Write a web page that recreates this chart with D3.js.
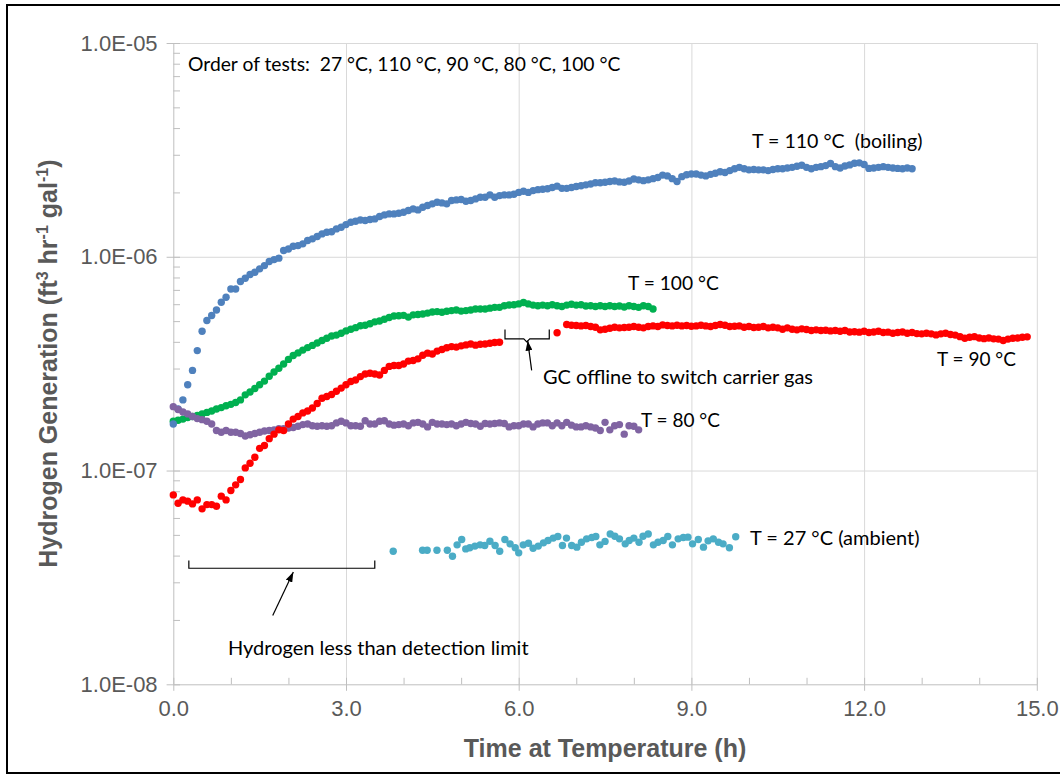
<!DOCTYPE html>
<html>
<head>
<meta charset="utf-8">
<script src="https://cdn.jsdelivr.net/npm/d3@7"></script>
<style>
  body { margin: 0; background: #fff; }
  svg { display: block; }
</style>
</head>
<body>
<svg id="chart" width="1060" height="776"></svg>
<script>
// GC sampling interval, hours (one sample every 5 minutes)
const STEP_H = 1 / 12;
// Values below are in units of 1e-7 ft3 hr-1 gal-1
const UNIT = 1e-7;

// T = 110 °C (boiling)
const h2_110C = [
  1.65, 1.94, 2.14, 2.52, 2.94, 3.64, 4.48, 5.03, 5.31, 5.64,
  6.13, 6.47, 7.07, 7.07, 7.66, 7.94, 8.26, 8.47, 8.78, 9.09,
  9.50, 9.70, 9.85, 10.69, 10.88, 11.20, 11.28, 11.49, 11.91, 12.13,
  12.43, 12.79, 13.02, 13.10, 13.50, 13.75, 14.14, 14.50, 14.66, 14.87,
  14.77, 14.93, 15.04, 15.42, 15.70, 15.87, 15.87, 15.98, 16.16, 16.45,
  16.75, 16.57, 17.05, 17.36, 17.68, 17.99, 17.86, 17.68, 18.32, 18.45,
  18.52, 18.19, 18.32, 18.65, 18.99, 18.99, 19.47, 18.99, 19.33, 19.47,
  19.47, 19.6, 20.0, 20.25, 20.0, 20.4, 20.6, 20.7, 20.8, 21.1,
  21.4, 20.9, 20.9, 21.1, 21.3, 21.5, 21.7, 21.9, 22.2, 22.2,
  22.3, 22.5, 22.6, 22.4, 22.3, 22.6, 23.1, 22.9, 22.7, 22.9,
  23.2, 23.5, 24.1, 23.9, 23.2, 22.5, 23.7, 24.2, 24.4, 24.4,
  24.1, 23.9, 24.3, 24.6, 25.0, 24.8, 25.3, 25.8, 26.2, 25.8,
  25.5, 25.6, 25.5, 25.5, 25.3, 25.6, 25.8, 25.8, 26.0, 26.2,
  26.5, 26.8, 26.2, 25.8, 26.2, 26.4, 26.7, 27.3, 26.4, 26.0,
  26.6, 26.9, 27.4, 27.5, 27.0, 25.9, 26.0, 26.2, 26.4, 26.2,
  26.0, 25.9, 25.8, 26.0, 25.8
];

// T = 100 °C
const h2_100C = [
  1.70, 1.72, 1.74, 1.77, 1.79, 1.81, 1.84, 1.87, 1.90, 1.94,
  1.97, 2.01, 2.04, 2.08, 2.14, 2.26, 2.33, 2.42, 2.52, 2.62,
  2.76, 2.89, 3.01, 3.15, 3.31, 3.45, 3.55, 3.66, 3.76, 3.85,
  3.95, 4.06, 4.16, 4.26, 4.30, 4.39, 4.50, 4.58, 4.66, 4.76,
  4.78, 4.86, 4.96, 5.01, 5.10, 5.20, 5.28, 5.30, 5.32, 5.22,
  5.35, 5.37, 5.40, 5.45, 5.52, 5.54, 5.50, 5.56, 5.60, 5.64,
  5.57, 5.60, 5.64, 5.70, 5.70, 5.70, 5.75, 5.80, 5.80, 5.90,
  5.95, 5.96, 6.02, 6.11, 6.02, 5.94, 5.90, 5.94, 5.90, 5.96,
  5.90, 5.85, 5.94, 6.00, 5.94, 5.96, 5.88, 5.90, 5.85, 5.90,
  5.85, 5.90, 5.85, 5.88, 5.82, 5.90, 5.85, 5.80, 5.90, 5.85,
  5.70
];

// T = 90 °C (null = GC offline while the carrier gas was switched)
const h2_90C = [
  0.769, 0.703, 0.729, 0.719, 0.698, 0.729, 0.662, 0.693, 0.693, 0.681,
  0.759, 0.729, 0.806, 0.857, 0.908, 1.029, 1.082, 1.154, 1.27, 1.31,
  1.41, 1.48, 1.55, 1.54, 1.65, 1.74, 1.79, 1.86, 1.90, 1.96,
  2.06, 2.18, 2.22, 2.27, 2.35, 2.43, 2.52, 2.61, 2.65, 2.75,
  2.83, 2.85, 2.83, 2.80, 2.94, 3.07, 3.10, 3.10, 3.15, 3.25,
  3.27, 3.33, 3.46, 3.54, 3.51, 3.62, 3.68, 3.75, 3.80, 3.78,
  3.83, 3.87, 3.91, 3.86, 3.90, 3.91, 3.94, 3.97, 3.98, null,
  null, null, null, null, null, null, null, null, null, null,
  4.41, null, 4.82, 4.78, 4.77, 4.75, 4.77, 4.72, 4.68, 4.55,
  4.58, 4.63, 4.68, 4.65, 4.67, 4.68, 4.72, 4.68, 4.65, 4.72,
  4.75, 4.72, 4.80, 4.77, 4.75, 4.78, 4.75, 4.77, 4.73, 4.75,
  4.78, 4.75, 4.72, 4.77, 4.82, 4.78, 4.72, 4.73, 4.75, 4.68,
  4.72, 4.67, 4.68, 4.72, 4.65, 4.68, 4.65, 4.58, 4.65, 4.58,
  4.55, 4.60, 4.57, 4.52, 4.55, 4.52, 4.53, 4.50, 4.52, 4.48,
  4.52, 4.45, 4.46, 4.44, 4.48, 4.42, 4.45, 4.48, 4.42, 4.44,
  4.39, 4.42, 4.45, 4.39, 4.42, 4.37, 4.36, 4.39, 4.36, 4.31,
  4.36, 4.39, 4.33, 4.30, 4.23, 4.16, 4.20, 4.23, 4.17, 4.14,
  4.17, 4.13, 4.12, 4.06, 4.12, 4.16, 4.17, 4.20, 4.22
];

// T = 80 °C
const h2_80C = [
  1.99, 1.93, 1.88, 1.84, 1.79, 1.75, 1.73, 1.70, 1.65, 1.54,
  1.51, 1.54, 1.51, 1.51, 1.49, 1.45, 1.47, 1.49, 1.51, 1.53,
  1.54, 1.55, 1.57, 1.57, 1.58, 1.59, 1.61, 1.64, 1.65, 1.62,
  1.61, 1.62, 1.61, 1.62, 1.67, 1.70, 1.67, 1.62, 1.62, 1.61,
  1.71, 1.65, 1.65, 1.70, 1.71, 1.65, 1.63, 1.64, 1.65, 1.62,
  1.67, 1.68, 1.65, 1.60, 1.68, 1.65, 1.65, 1.64, 1.65, 1.62,
  1.65, 1.68, 1.66, 1.65, 1.61, 1.66, 1.65, 1.66, 1.67, 1.66,
  1.60, 1.62, 1.62, 1.65, 1.65, 1.60, 1.65, 1.67, 1.67, 1.62,
  1.67, 1.62, 1.68, 1.63, 1.60, 1.60, 1.62, 1.60, 1.58, 1.54,
  1.68, 1.55, 1.62, 1.64, 1.48, 1.62, 1.61, 1.55
];

// T = 27 °C (ambient): only samples above the detection limit, with their times (h)
const time_27C = [
  3.82, 4.33, 4.41, 4.58, 4.76, 4.85, 4.93, 5.01, 5.08, 5.15,
  5.24, 5.33, 5.41, 5.50, 5.59, 5.67, 5.76, 5.85, 5.94, 6.00,
  6.08, 6.17, 6.25, 6.34, 6.43, 6.51, 6.60, 6.68, 6.76, 6.83,
  6.92, 7.01, 7.09, 7.18, 7.27, 7.34, 7.41, 7.50, 7.59, 7.67,
  7.75, 7.85, 7.92, 8.00, 8.09, 8.16, 8.25, 8.34, 8.42, 8.51,
  8.59, 8.67, 8.77, 8.86, 8.94, 9.02, 9.12, 9.21, 9.29, 9.38,
  9.47, 9.55, 9.66, 9.77
];
const h2_27C = [
  0.419, 0.424, 0.424, 0.424, 0.424, 0.397, 0.449, 0.476, 0.430, 0.435,
  0.443, 0.449, 0.446, 0.467, 0.446, 0.419, 0.476, 0.454, 0.435, 0.412,
  0.449, 0.457, 0.433, 0.443, 0.459, 0.471, 0.483, 0.491, 0.446, 0.483,
  0.446, 0.438, 0.462, 0.479, 0.486, 0.491, 0.449, 0.466, 0.505, 0.493,
  0.479, 0.454, 0.471, 0.483, 0.462, 0.493, 0.505, 0.449, 0.462, 0.471,
  0.491, 0.449, 0.479, 0.486, 0.488, 0.454, 0.476, 0.438, 0.469, 0.479,
  0.462, 0.454, 0.435, 0.490
];

const seriesColors = {
  c110: "#4f81bd",
  c100: "#00b050",
  c90: "#ff0000",
  c80: "#8064a2",
  c27: "#4bacc6"
};

const xTicks = [0, 3, 6, 9, 12, 15];
const xTickLabels = ["0.0", "3.0", "6.0", "9.0", "12.0", "15.0"];
const xMinorTicks = [1, 2, 4, 5, 7, 8, 10, 11, 13, 14];
const yTicks = [1e-8, 1e-7, 1e-6, 1e-5];
const yTickLabels = ["1.0E-08", "1.0E-07", "1.0E-06", "1.0E-05"];

const W = 1060, H = 776;
const plot = { left: 173.3, top: 43, right: 1036.8, bottom: 684.3 };

const svg = d3.select("#chart");
const x = d3.scaleLinear().domain([0, 15]).range([plot.left, plot.right]);
const y = d3.scaleLog().domain([1e-8, 1e-5]).range([plot.bottom, plot.top]);

const yMinorTicks = [];
[-8, -7, -6].forEach(e => { for (let k = 2; k <= 9; k++) yMinorTicks.push(k * Math.pow(10, e)); });

const tickFont = "'Liberation Sans', Arial, sans-serif";
const noteFont = "Lato, 'Open Sans', sans-serif";
const axisGrey = "#bfbfbf";
const gridGrey = "#d9d9d9";
const labelGrey = "#595959";

svg.append("rect").attr("width", W).attr("height", H).attr("fill", "#fff");

// outer frame
svg.append("rect")
  .attr("x", 7).attr("y", 5).attr("width", 1070).attr("height", 768)
  .attr("fill", "none").attr("stroke", "#000").attr("stroke-width", 2);

// gridlines
const gridX = svg.append("g").attr("transform", `translate(0,${plot.bottom})`)
  .call(d3.axisBottom(x).tickValues(xTicks.slice(1)).tickSize(-(plot.bottom - plot.top)).tickFormat(""));
gridX.select(".domain").remove();
gridX.selectAll("line").attr("stroke", gridGrey);

const gridY = svg.append("g").attr("transform", `translate(${plot.left},0)`)
  .call(d3.axisLeft(y).tickValues(yTicks.slice(1)).tickSize(-(plot.right - plot.left)).tickFormat(""));
gridY.select(".domain").remove();
gridY.selectAll("line").attr("stroke", gridGrey);

// minor ticks (inside the plot)
const minorX = svg.append("g").attr("transform", `translate(0,${plot.bottom})`)
  .call(d3.axisBottom(x).tickValues(xMinorTicks).tickSize(-6.5).tickFormat(""));
minorX.select(".domain").remove();
minorX.selectAll("line").attr("stroke", axisGrey);

const minorY = svg.append("g").attr("transform", `translate(${plot.left},0)`)
  .call(d3.axisLeft(y).tickValues(yMinorTicks).tickSize(-6.7).tickFormat(""));
minorY.select(".domain").remove();
minorY.selectAll("line").attr("stroke", axisGrey);

// main axes with ticks crossing the axis line
const xAxis = svg.append("g").attr("transform", `translate(0,${plot.bottom})`)
  .call(d3.axisBottom(x).tickValues(xTicks).tickSize(6.5).tickSizeOuter(0)
    .tickPadding(10).tickFormat((d, i) => xTickLabels[i]));
xAxis.select(".domain").attr("stroke", axisGrey);
xAxis.selectAll(".tick line").attr("y1", -6.5).attr("y2", 6.5).attr("stroke", axisGrey);
xAxis.selectAll("text").attr("font-family", tickFont).attr("font-size", 22).attr("fill", labelGrey);

const yAxis = svg.append("g").attr("transform", `translate(${plot.left},0)`)
  .call(d3.axisLeft(y).tickValues(yTicks).tickSize(6.7).tickSizeOuter(0)
    .tickPadding(9).tickFormat((d, i) => yTickLabels[i]));
yAxis.select(".domain").attr("stroke", axisGrey);
yAxis.selectAll(".tick line").attr("x1", 6.7).attr("x2", -6.7).attr("stroke", axisGrey);
yAxis.selectAll("text").attr("font-family", tickFont).attr("font-size", 22).attr("fill", labelGrey);

// axis titles
svg.append("text")
  .attr("x", (plot.left + plot.right) / 2).attr("y", 757)
  .attr("text-anchor", "middle")
  .attr("font-family", tickFont).attr("font-weight", "bold").attr("font-size", 25)
  .attr("fill", labelGrey)
  .text("Time at Temperature (h)");

const yTitle = svg.append("text")
  .attr("transform", `translate(57,${(plot.top + plot.bottom) / 2}) rotate(-90)`)
  .attr("text-anchor", "middle")
  .attr("font-family", tickFont).attr("font-weight", "bold").attr("font-size", 25)
  .attr("fill", labelGrey);
yTitle.append("tspan").text("Hydrogen Generation (ft");
yTitle.append("tspan").attr("font-size", 16).attr("dy", -9).text("3");
yTitle.append("tspan").attr("dy", 9).text(" hr");
yTitle.append("tspan").attr("font-size", 16).attr("dy", -9).text("-1");
yTitle.append("tspan").attr("dy", 9).text(" gal");
yTitle.append("tspan").attr("font-size", 16).attr("dy", -9).text("-1");
yTitle.append("tspan").attr("dy", 9).text(")");

// data points
function sampled(values) {
  return values.map((v, i) => ({ t: i * STEP_H, v: v == null ? null : v * UNIT }))
    .filter(d => d.v != null);
}
const series = [
  { key: "c100", pts: sampled(h2_100C) },
  { key: "c110", pts: sampled(h2_110C) },
  { key: "c80", pts: sampled(h2_80C) },
  { key: "c90", pts: sampled(h2_90C) },
  { key: "c27", pts: time_27C.map((t, i) => ({ t, v: h2_27C[i] * UNIT })) }
];
const dots = svg.append("g");
series.forEach(s => {
  dots.append("g").selectAll("circle").data(s.pts).join("circle")
    .attr("cx", d => x(d.t)).attr("cy", d => y(d.v)).attr("r", 3.7)
    .attr("fill", seriesColors[s.key]);
});

// annotations
const notes = svg.append("g").attr("font-family", noteFont).attr("font-size", 20)
  .attr("fill", "#000");
const note = (px, py, txt, size) => notes.append("text")
  .attr("xml:space", "preserve").style("white-space", "pre")
  .attr("font-size", size || null)
  .attr("x", px).attr("y", py).text(txt);
note(188, 71, "Order of tests:  27 °C, 110 °C, 90 °C, 80 °C, 100 °C", 19.3);
note(752, 148, "T = 110 °C  (boiling)", 19.6);
note(628, 290, "T = 100 °C", 19.2);
note(937, 366, "T = 90 °C", 19);
note(543, 384, "GC offline to switch carrier gas");
note(641, 427, "T = 80 °C", 19);
note(750, 545, "T = 27 °C (ambient)");
note(228, 655, "Hydrogen less than detection limit");

const defs = svg.append("defs");
defs.append("marker").attr("id", "arrowHead")
  .attr("viewBox", "0 0 10 7").attr("refX", 10).attr("refY", 3.5)
  .attr("markerWidth", 10).attr("markerHeight", 7)
  .attr("markerUnits", "userSpaceOnUse").attr("orient", "auto")
  .append("path").attr("d", "M0,0 L10,3.5 L0,7 Z").attr("fill", "#000");

const ann = svg.append("g").attr("fill", "none").attr("stroke", "#000").attr("stroke-width", 1.2);

// bracket over the period below the detection limit
const bl = { t0: 0.27, t1: 3.50, v: 3.49e-8, vTip: 3.79e-8 };
ann.append("path").attr("d",
  `M${x(bl.t0)},${y(bl.vTip)} V${y(bl.v)} H${x(bl.t1)} V${y(bl.vTip)}`);
ann.append("line")
  .attr("x1", x(1.727)).attr("y1", y(2.10e-8))
  .attr("x2", x(2.085)).attr("y2", y(3.35e-8))
  .attr("marker-end", "url(#arrowHead)");

// bracket over the GC outage
const gc = { t0: 5.762, t1: 6.531, tMid: 6.14, v: 4.13e-7, vTip: 4.57e-7 };
const gy = y(gc.v), gm = x(gc.tMid);
ann.append("path").attr("d",
  `M${x(gc.t0)},${y(gc.vTip)} V${gy} H${gm - 3} L${gm},${gy + 3} L${gm + 3},${gy} H${x(gc.t1)} V${y(gc.vTip)}`);
ann.append("line")
  .attr("x1", x(6.225)).attr("y1", y(2.94e-7))
  .attr("x2", x(6.156)).attr("y2", y(4.05e-7))
  .attr("marker-end", "url(#arrowHead)");
</script>
</body>
</html>
